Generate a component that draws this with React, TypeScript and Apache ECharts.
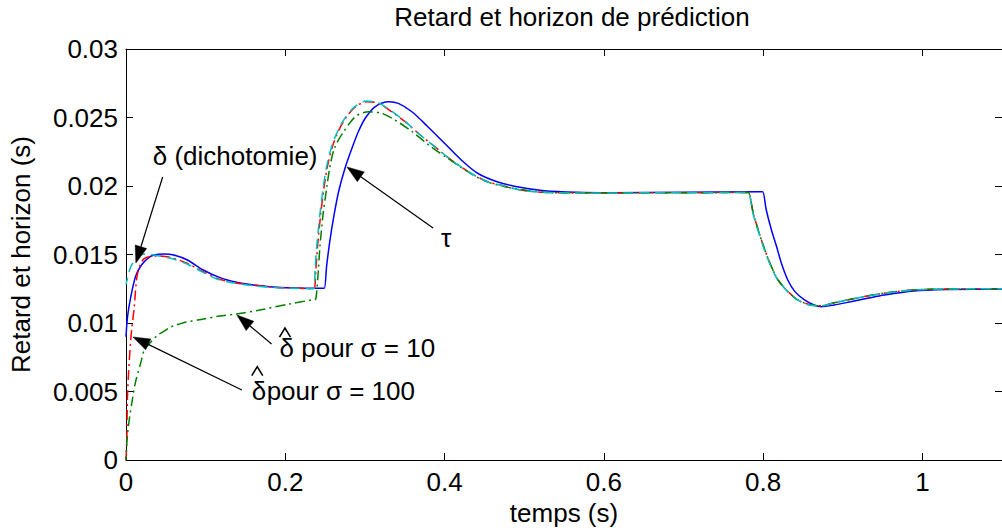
import React, { useEffect, useRef } from 'react';
import * as echarts from 'echarts';

// ---- data ----
// tau (blue, solid)
const tauX = [0, 0.002, 0.006, 0.012, 0.019, 0.027, 0.035, 0.048, 0.060, 0.077, 0.097, 0.118, 0.139, 0.160, 0.180, 0.201, 0.225, 0.246, 0.249,
  0.252, 0.256, 0.261, 0.267, 0.275, 0.284, 0.292, 0.301, 0.313, 0.330, 0.342, 0.359, 0.379, 0.400, 0.421, 0.4415, 0.466, 0.491, 0.525, 0.566, 0.607, 0.700, 0.796, 0.7994,
  0.804, 0.8105, 0.817, 0.823, 0.831, 0.840, 0.852, 0.864, 0.873, 0.889, 0.910, 0.931, 0.952, 0.989, 1.03, 1.1];
const tauY = [0.0090, 0.0105, 0.0119, 0.0134, 0.0142, 0.0147, 0.01496, 0.01504, 0.01496, 0.0146, 0.01387, 0.01331, 0.01297, 0.01277, 0.01265, 0.01258, 0.01254, 0.01253, 0.01253,
  0.0142, 0.0160, 0.0178, 0.0196, 0.0213, 0.0228, 0.0240, 0.0250, 0.0258, 0.02615, 0.02603, 0.02542, 0.02433, 0.02312, 0.0219, 0.02093, 0.02031, 0.01995, 0.01966, 0.01954, 0.01951, 0.01955, 0.01958, 0.01958,
  0.01825, 0.01679, 0.01557, 0.01436, 0.01314, 0.01229, 0.01168, 0.01131, 0.01119, 0.01131, 0.01155, 0.0118, 0.01204, 0.01234, 0.01245, 0.01249];

// delta dichotomie, red (dash-dot)
const redX = [0, 0.001, 0.002, 0.006, 0.0104, 0.0145, 0.0228, 0.0394, 0.055, 0.0767, 0.095, 0.114, 0.135, 0.1596, 0.19, 0.2177, 0.233, 0.2363,
  0.2385, 0.2405, 0.2446, 0.2488, 0.2529, 0.2591, 0.2674, 0.2757, 0.2882, 0.3027, 0.3172, 0.3337, 0.3504, 0.3669, 0.3877, 0.4083, 0.4332, 0.454, 0.4705, 0.4954, 0.5245, 0.566, 0.65, 0.778, 0.7815,
  0.7877, 0.7939, 0.8022, 0.8105, 0.8188, 0.8313, 0.8437, 0.8603, 0.8727, 0.8893, 0.910, 0.9307, 0.9515, 0.9888, 1.03, 1.1];
const redY = [0, 0.0015, 0.0049, 0.0088, 0.0112, 0.0136, 0.0147, 0.01489, 0.0148, 0.01436, 0.0138, 0.01326, 0.01295, 0.01277, 0.0126, 0.01253, 0.0125, 0.0125,
  0.0140, 0.01557, 0.0180, 0.01995, 0.02141, 0.02287, 0.02409, 0.02494, 0.02579, 0.02615, 0.02603, 0.02542, 0.0247, 0.02385, 0.02287, 0.0219, 0.02093, 0.02031, 0.02007, 0.01971, 0.01954, 0.01949, 0.0195, 0.01952, 0.01952,
  0.018, 0.01679, 0.01533, 0.01411, 0.01314, 0.01229, 0.01168, 0.01131, 0.01126, 0.01148, 0.01173, 0.01197, 0.01217, 0.01241, 0.01248, 0.0125];

// delta hat, sigma = 100 (cyan, dashed)
const cyanX = [0, 0.006, 0.0145, 0.0228, 0.0352, 0.056, 0.0767, 0.095, 0.114, 0.135, 0.1596, 0.19, 0.2177, 0.233, 0.236,
  0.2375, 0.2395, 0.2436, 0.2478, 0.2519, 0.2581, 0.2664, 0.2747, 0.2872, 0.3017, 0.3172, 0.3337, 0.3504, 0.3669, 0.3877, 0.4083, 0.4332, 0.454, 0.4705, 0.4954, 0.5245, 0.566, 0.65, 0.777, 0.781,
  0.7872, 0.7934, 0.8017, 0.81, 0.8183, 0.8308, 0.8432, 0.858, 0.8727, 0.8893, 0.910, 0.9307, 0.9515, 0.9888, 1.03, 1.1];
const cyanY = [0.0128, 0.0141, 0.01484, 0.01504, 0.01496, 0.01472, 0.01431, 0.01375, 0.01321, 0.01292, 0.01272, 0.01258, 0.01251, 0.0125, 0.0125,
  0.0140, 0.01557, 0.0180, 0.01995, 0.02141, 0.02287, 0.02409, 0.02494, 0.02579, 0.0262, 0.02606, 0.02545, 0.02472, 0.02385, 0.02287, 0.0219, 0.02093, 0.02031, 0.02007, 0.01971, 0.01954, 0.01949, 0.0195, 0.01952, 0.01952,
  0.018, 0.01679, 0.01533, 0.01411, 0.01314, 0.01229, 0.01168, 0.01131, 0.01126, 0.01148, 0.01173, 0.01197, 0.01217, 0.01241, 0.01248, 0.0125];

// delta hat, sigma = 10 (green, dash-dot)
const greenX = [0, 0.001, 0.002, 0.004, 0.008, 0.012, 0.019, 0.0228, 0.031, 0.0394, 0.048, 0.056, 0.0725, 0.0974, 0.118, 0.139, 0.168, 0.205, 0.235, 0.238,
  0.2395, 0.2415, 0.2435, 0.2476, 0.252, 0.256, 0.262, 0.2715, 0.288, 0.3047, 0.3213, 0.338, 0.3586, 0.38, 0.402, 0.433, 0.454, 0.48, 0.5245, 0.566, 0.65, 0.778, 0.7815,
  0.7877, 0.7939, 0.8022, 0.8105, 0.8188, 0.8313, 0.8437, 0.8603, 0.8727, 0.8893, 0.910, 0.9307, 0.9515, 0.9888, 1.03, 1.1];
const greenY = [0, 0.0012, 0.0019, 0.0029, 0.0044, 0.0057, 0.0072, 0.0080, 0.0086, 0.0091, 0.0094, 0.0097, 0.01002, 0.01029, 0.01051, 0.01066, 0.01095, 0.01139, 0.0117, 0.01173,
  0.0123, 0.0138, 0.01557, 0.0180, 0.01985, 0.0214, 0.0228, 0.0238, 0.02506, 0.02542, 0.0253, 0.0248, 0.0240, 0.0230, 0.0221, 0.0209, 0.0203, 0.0199, 0.01955, 0.0195, 0.0195, 0.01952, 0.01952,
  0.018, 0.01679, 0.01533, 0.01411, 0.01314, 0.01229, 0.01168, 0.01131, 0.01126, 0.01148, 0.01173, 0.01197, 0.01217, 0.01241, 0.01248, 0.0125];

// annotations (data coordinates)
const arrows = [
  { tail: [0.046, 0.02066], head: [0.0124, 0.01438] },
  { tail: [0.3856, 0.01693], head: [0.2774, 0.02139] },
  { tail: [0.1828, 0.00847], head: [0.1393, 0.01058] },
  { tail: [0.1455, 0.00511], head: [0.0087, 0.00898] },
];
const labels = [
  { text: 'δ (dichotomie)', at: [0.0336, 0.02219] },
  { text: 'τ', at: [0.3955, 0.0162] },
  { text: 'δ pour σ = 10', at: [0.1928, 0.00818] },
  { text: 'δ', at: [0.158, 0.00504] },
  { text: 'pour σ = 100', at: [0.1766, 0.00504] },
];
const hats = [
  { apex: [0.1996, 0.00963] },
  { apex: [0.1648, 0.00681] },
];

const pairs = (xs: number[], ys: number[]) => xs.map((x, i) => [x, ys[i]]);

const FONT = '"Liberation Sans", Arial, Helvetica, sans-serif';
const SMOOTH = 0.3;

export default function App() {
  const ref = useRef<HTMLDivElement>(null);
  useEffect(() => {
    const chart = echarts.init(ref.current!, null, { renderer: 'svg' });
    const lineAxis = { show: true, onZero: false, lineStyle: { color: '#000', width: 1 } };
    const tick = { show: true, inside: true, length: 7, lineStyle: { color: '#000', width: 1 } };
    chart.setOption({
      animation: false,
      backgroundColor: '#fff',
      title: {
        text: 'Retard et horizon de prédiction',
        left: 567,
        textAlign: 'center',
        top: -1,
        textStyle: { fontFamily: FONT, fontSize: 26, fontWeight: 'normal', color: '#000' },
      },
      grid: { left: 125, right: -7, top: 49, bottom: 72 },
      xAxis: [
        {
          type: 'value', position: 'bottom', min: 0, max: 1.1, interval: 0.2,
          axisLine: lineAxis, axisTick: tick, splitLine: { show: false },
          axisLabel: {
            show: true, margin: 9, showMaxLabel: false, color: '#000', fontFamily: FONT, fontSize: 26,
            formatter: (v: number) => String(parseFloat(v.toFixed(2))),
          },
          name: 'temps (s)', nameLocation: 'middle', nameGap: 40,
          nameTextStyle: { fontFamily: FONT, fontSize: 26, color: '#000' },
        },
        {
          type: 'value', position: 'top', min: 0, max: 1.1, interval: 0.2,
          axisLine: lineAxis, axisTick: tick, splitLine: { show: false }, axisLabel: { show: false },
        },
      ],
      yAxis: [
        {
          type: 'value', position: 'left', min: 0, max: 0.03, interval: 0.005,
          axisLine: lineAxis, axisTick: tick, splitLine: { show: false },
          axisLabel: {
            show: true, margin: 8, color: '#000', fontFamily: FONT, fontSize: 26,
            formatter: (v: number) => String(parseFloat(v.toFixed(4))),
          },
          name: 'Retard et horizon (s)', nameLocation: 'middle', nameGap: 92,
          nameTextStyle: { fontFamily: FONT, fontSize: 26, color: '#000' },
        },
        {
          type: 'value', position: 'right', min: 0, max: 0.03, interval: 0.005,
          axisLine: lineAxis, axisTick: tick, splitLine: { show: false }, axisLabel: { show: false },
        },
      ],
      series: [
        {
          type: 'line', name: 'tau', data: pairs(tauX, tauY), showSymbol: false, symbol: 'none', smooth: SMOOTH,
          lineStyle: { color: '#0000ff', width: 1.5, type: 'solid' }, z: 2,
        },
        {
          type: 'line', name: 'delta', data: pairs(redX, redY), showSymbol: false, symbol: 'none', smooth: SMOOTH,
          lineStyle: { color: '#ff0000', width: 1.5, type: [10, 4, 2, 4] }, z: 3,
        },
        {
          type: 'line', name: 'sigma10', data: pairs(greenX, greenY), showSymbol: false, symbol: 'none', smooth: SMOOTH,
          lineStyle: { color: '#008000', width: 1.5, type: [10, 4, 2, 4], dashOffset: 6 }, z: 4,
        },
        {
          type: 'line', name: 'sigma100', data: pairs(cyanX, cyanY), showSymbol: false, symbol: 'none', smooth: SMOOTH,
          lineStyle: { color: '#00bfbf', width: 1.5, type: [10, 6], dashOffset: 3 }, z: 5,
        },
      ],
    });

    const P = (p: number[]) => chart.convertToPixel({ gridIndex: 0 }, p) as number[];
    const elements: any[] = [];
    arrows.forEach((a) => {
      const [tx, ty] = P(a.tail);
      const [hx, hy] = P(a.head);
      const dx = hx - tx, dy = hy - ty;
      const L = Math.hypot(dx, dy);
      const ux = dx / L, uy = dy / L;
      const len = 17, hw = 6;
      const bx = hx - ux * len, by = hy - uy * len;
      elements.push({
        type: 'line', shape: { x1: tx, y1: ty, x2: bx, y2: by },
        style: { stroke: '#000', lineWidth: 1.2 }, z: 100,
      });
      elements.push({
        type: 'polygon',
        shape: { points: [[hx, hy], [bx - uy * hw, by + ux * hw], [bx + uy * hw, by - ux * hw]] },
        style: { fill: '#000', stroke: '#000', lineWidth: 0.5 }, z: 100,
      });
    });
    labels.forEach((l) => {
      const [x, y] = P(l.at);
      elements.push({
        type: 'text', x, y, z: 100,
        style: {
          text: l.text, fill: '#000', fontFamily: FONT, fontSize: 26,
          align: 'left', verticalAlign: 'middle', textAlign: 'left', textVerticalAlign: 'middle',
        },
      });
    });
    hats.forEach((h) => {
      const [x, y] = P(h.apex);
      elements.push({
        type: 'polyline', z: 100,
        shape: { points: [[x - 5.5, y + 9], [x, y], [x + 5.5, y + 9]] },
        style: { stroke: '#000', lineWidth: 1.6, fill: null },
      });
    });
    chart.setOption({ graphic: elements });

    return () => chart.dispose();
  }, []);
  return (
    <div
      ref={ref}
      style={{ position: 'fixed', left: 0, top: 0, width: 1002, height: 532, background: '#fff' }}
    />
  );
}
